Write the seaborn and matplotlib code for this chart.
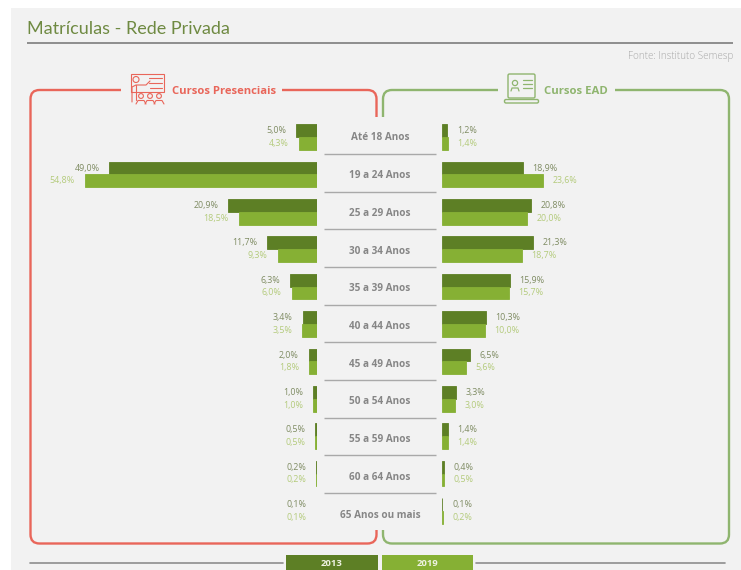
import matplotlib
matplotlib.use("Agg")
import matplotlib.pyplot as plt
import pandas as pd
import seaborn as sns
from matplotlib.patches import Circle, FancyBboxPatch, PathPatch, Rectangle
from matplotlib.path import Path

# Share of enrolments by age band, in percent
age_bands = ["Até 18 Anos", "19 a 24 Anos", "25 a 29 Anos", "30 a 34 Anos",
             "35 a 39 Anos", "40 a 44 Anos", "45 a 49 Anos", "50 a 54 Anos",
             "55 a 59 Anos", "60 a 64 Anos", "65 Anos ou mais"]
presencial_2013 = [5.0, 49.0, 20.9, 11.7, 6.3, 3.4, 2.0, 1.0, 0.5, 0.2, 0.1]
presencial_2019 = [4.3, 54.8, 18.5, 9.3, 6.0, 3.5, 1.8, 1.0, 0.5, 0.2, 0.1]
ead_2013 = [1.2, 18.9, 20.8, 21.3, 15.9, 10.3, 6.5, 3.3, 1.4, 0.4, 0.1]
ead_2019 = [1.4, 23.6, 20.0, 18.7, 15.7, 10.0, 5.6, 3.0, 1.4, 0.5, 0.2]
years = ["2013", "2019"]

DARK, LIGHT = "#5d7f25", "#86b034"
DARK_TXT, LIGHT_TXT = "#7f8c63", "#b4cb7c"
PANEL = "#f2f2f2"
RED, GREEN = "#e9665a", "#8fb56f"
GREY = "#8e8e8e"
W, H = 741, 570

sns.set_theme(style="white")
plt.rcParams["font.family"] = ["Open Sans", "DejaVu Sans"]

fig = plt.figure(figsize=(W / 100, H / 100), dpi=100, facecolor="white")


def px_axes(x0, y0, x1, y1, **kw):
    """Axes placed by its pixel box, y measured from the top of the figure."""
    return fig.add_axes([x0 / W, 1 - y1 / H, (x1 - x0) / W, (y1 - y0) / H], **kw)


# Background layer addressed in pixels: panel, rules, frames, icons, year key
bg = px_axes(0, 0, W, H, zorder=0)
bg.set_xlim(0, W)
bg.set_ylim(H, 0)
bg.axis("off")
bg.add_patch(Rectangle((11, 8), W - 11, H - 8, fc=PANEL, ec="none"))

bg.plot([27, 733], [43, 43], color=GREY, lw=1.4, solid_capstyle="butt")
bg.text(27, 29, "Matrículas - Rede Privada", color="#6f8a42", fontsize=13,
        family="Lato", va="center", ha="left")
bg.text(733, 56.5, "Fonte: Instituto Semesp", color="#a8a8a8", fontsize=7.1,
        va="center", ha="right", fontweight="light")


def rounded_frame(points, color, radius=9):
    """Polyline with quadratic rounded corners."""
    verts, codes = [points[0]], [Path.MOVETO]
    for prev, cur, nxt in zip(points, points[1:], points[2:]):
        dx0 = (cur[0] > prev[0]) - (cur[0] < prev[0])
        dy0 = (cur[1] > prev[1]) - (cur[1] < prev[1])
        dx1 = (nxt[0] > cur[0]) - (nxt[0] < cur[0])
        dy1 = (nxt[1] > cur[1]) - (nxt[1] < cur[1])
        verts += [(cur[0] - dx0 * radius, cur[1] - dy0 * radius), cur,
                  (cur[0] + dx1 * radius, cur[1] + dy1 * radius)]
        codes += [Path.LINETO, Path.CURVE3, Path.CURVE3]
    verts.append(points[-1])
    codes.append(Path.LINETO)
    bg.add_patch(PathPatch(Path(verts, codes), fc="none", ec=color, lw=1.7,
                           capstyle="butt"))


rounded_frame([(121, 90), (30.5, 90), (30.5, 543.5), (376.5, 543.5), (376.5, 530)], RED)
rounded_frame([(282, 90), (376.5, 90), (376.5, 117)], RED)
rounded_frame([(498, 90), (383, 90), (383, 117)], GREEN)
rounded_frame([(615, 90), (729, 90), (729, 543.5), (383, 543.5), (383, 530)], GREEN)

bg.text(172, 91.5, "Cursos Presenciais", color=RED, fontsize=8.1, fontweight="bold",
        va="center", ha="left")
bg.text(544, 91.5, "Cursos EAD", color=GREEN, fontsize=8.2, fontweight="bold",
        va="center", ha="left")

# Classroom icon
bg.add_patch(Rectangle((131, 74), 33, 18, fc="none", ec=RED, lw=0.8))
bg.add_patch(Circle((136, 79.5), 3, fc=PANEL, ec=RED, lw=0.8))
for y, x0 in [(78, 149), (83, 149), (88, 150)]:
    bg.plot([x0, 162], [y, y], color=RED, lw=0.8)
bg.plot([132, 132, 136, 146, 150], [102, 87, 85, 85, 81], color=RED, lw=0.8)
bg.plot([136, 136], [85, 100], color=RED, lw=0.8)
for cx in (141, 150, 159):
    bg.add_patch(Circle((cx, 96), 2.4, fc="none", ec=RED, lw=0.8))
    bg.plot([cx - 5, cx - 3, cx + 3, cx + 5], [104, 100.5, 100.5, 104], color=RED, lw=0.8)

# Laptop icon
bg.add_patch(FancyBboxPatch((508, 74), 27, 24, boxstyle="round,pad=0,rounding_size=1.5",
                            fc="none", ec=GREEN, lw=1.0))
bg.add_patch(FancyBboxPatch((504.5, 99.5), 34, 3.5, boxstyle="round,pad=0,rounding_size=1.5",
                            fc="none", ec=GREEN, lw=1.0))
bg.add_patch(Circle((515, 83), 2.6, fc="none", ec=GREEN, lw=0.9))
bg.plot([511, 512, 518, 519], [91, 88, 88, 91], color=GREEN, lw=0.9)
for y in (80, 84, 88):
    bg.plot([523, 532], [y, y], color=GREEN, lw=0.9)

# Age band names in the central column, with rules between them
for i, band in enumerate(age_bands):
    bg.text(380, 138 + i * 37.7, band, color="#868686", fontsize=7.2, fontweight="bold",
            ha="center", va="center")
    if i:
        y = 154 + (i - 1) * 37.67
        bg.plot([324, 436], [y, y], color="#a9a9a9", lw=1.0, solid_capstyle="butt")

# Year key along the bottom edge
bg.plot([30, 283], [562.5, 562.5], color=GREY, lw=1.2)
bg.plot([476, 725], [562.5, 562.5], color=GREY, lw=1.2)
for (x0, x1), color, label in zip([(286, 378), (382, 473)], [DARK, LIGHT], years):
    bg.add_patch(Rectangle((x0, 555), x1 - x0, 15, fc=color, ec="none"))
    bg.text((x0 + x1) / 2, 563, label, color="#eef2e2", fontsize=6.8, fontweight="bold",
            ha="center", va="center")


def pyramid_side(ax, v2013, v2019, xmax, flip=False):
    """One wing of the pyramid, with comma-decimal value labels beyond the bars."""
    df = pd.DataFrame({
        "faixa": age_bands * 2,
        "pct": list(v2013) + list(v2019),
        "ano": [years[0]] * len(age_bands) + [years[1]] * len(age_bands),
    })
    sns.barplot(data=df, y="faixa", x="pct", hue="ano", order=age_bands, hue_order=years,
                palette=[DARK, LIGHT], width=0.68, gap=0, dodge=True, legend=False,
                saturation=1, linewidth=0, ax=ax)
    ax.set_xlim(xmax, 0) if flip else ax.set_xlim(0, xmax)
    ax.set_xlabel("")
    ax.set_ylabel("")
    ax.set_xticks([])
    ax.set_yticks([])
    ax.patch.set_alpha(0)
    sns.despine(ax=ax, left=True, bottom=True)
    for container, values, color in zip(ax.containers, (v2013, v2019), (DARK_TXT, LIGHT_TXT)):
        # A hairline edge keeps the smallest bars visible
        for bar in container:
            bar.set_edgecolor(bar.get_facecolor())
            bar.set_linewidth(0.6)
        labels = [f"{v:.1f}%".replace(".", ",") for v in values]
        ax.bar_label(container, labels=labels, padding=7, fontsize=6.4, color=color)


TOP, BOTTOM = 118.3, 529.7

left = px_axes(30, TOP, 317, BOTTOM, zorder=2)
pyramid_side(left, presencial_2013, presencial_2019, 287 / 4.24, flip=True)

right = px_axes(442, TOP, 729, BOTTOM, zorder=2)
pyramid_side(right, ead_2013, ead_2019, 287 / 4.26)

fig.savefig("out.png", dpi=100, facecolor="white")
